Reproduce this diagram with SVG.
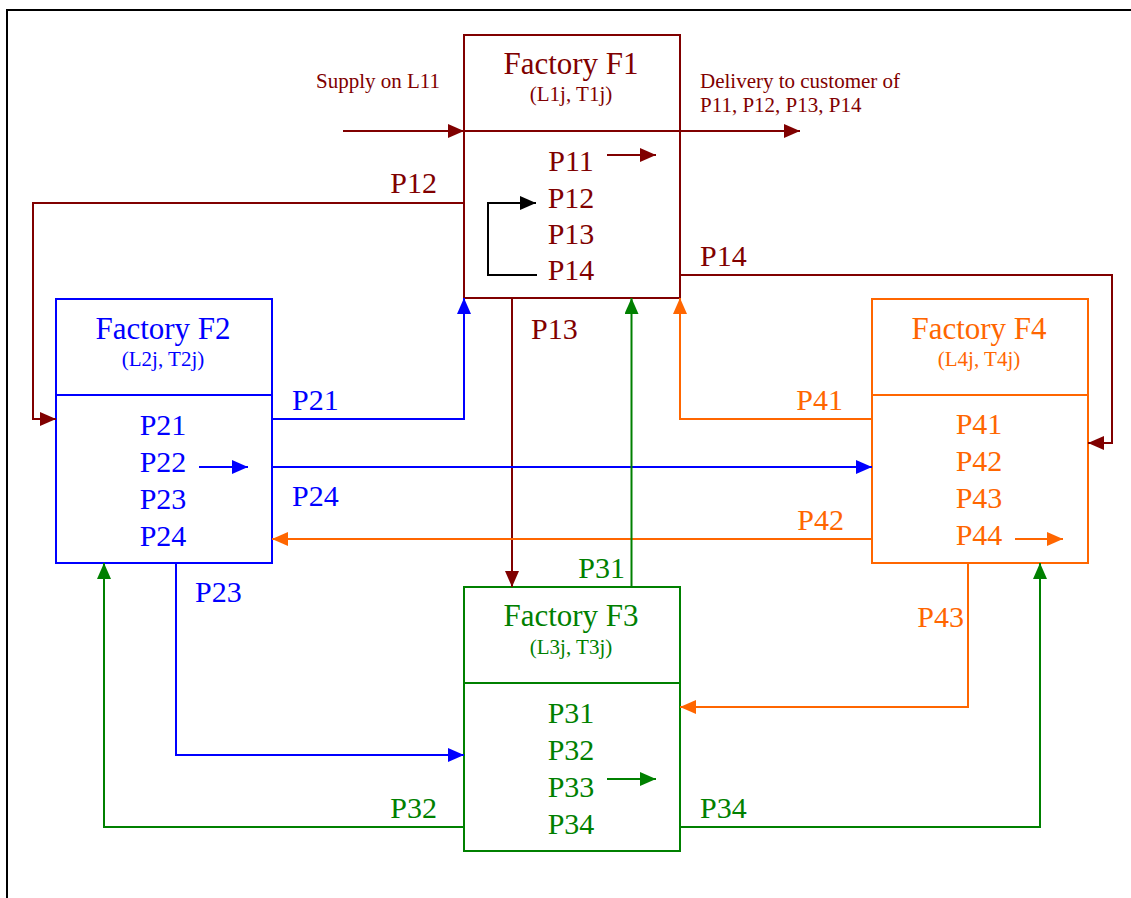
<svg xmlns="http://www.w3.org/2000/svg" width="1131" height="898" viewBox="0 0 1131 898">
<style>
text{font-family:"Liberation Serif","Times New Roman",serif}
.title{font-size:31px;text-anchor:middle}
.sub{font-size:21px;text-anchor:middle}
.item{font-size:30px;text-anchor:middle}
.lbl{font-size:30px}
.end{text-anchor:end}
.note{font-size:21px}
.box{fill:#fff;stroke-width:2}
.c{fill:none;stroke-width:2}
.mr{stroke:#800000}.tmr{fill:#800000}
.bl{stroke:#0000ff}.tbl{fill:#0000ff}
.or{stroke:#ff6600}.tor{fill:#ff6600}
.gr{stroke:#008000}.tgr{fill:#008000}
.bk{stroke:#000}
</style>
<defs>
<marker id="am" markerUnits="userSpaceOnUse" markerWidth="16" markerHeight="14" refX="16" refY="7" orient="auto"><path d="M0,0 L16,7 L0,14 z" fill="#800000"/></marker>
<marker id="ab" markerUnits="userSpaceOnUse" markerWidth="16" markerHeight="14" refX="16" refY="7" orient="auto"><path d="M0,0 L16,7 L0,14 z" fill="#0000ff"/></marker>
<marker id="ao" markerUnits="userSpaceOnUse" markerWidth="16" markerHeight="14" refX="16" refY="7" orient="auto"><path d="M0,0 L16,7 L0,14 z" fill="#ff6600"/></marker>
<marker id="ag" markerUnits="userSpaceOnUse" markerWidth="16" markerHeight="14" refX="16" refY="7" orient="auto"><path d="M0,0 L16,7 L0,14 z" fill="#008000"/></marker>
<marker id="ak" markerUnits="userSpaceOnUse" markerWidth="16" markerHeight="14" refX="16" refY="7" orient="auto"><path d="M0,0 L16,7 L0,14 z" fill="#000"/></marker>
</defs>
<rect width="1131" height="898" fill="#fff"/>
<path d="M7,898 V10 H1131" fill="none" stroke="#000" stroke-width="2"/>

<g id="f1">
<rect class="box mr" x="464" y="35" width="216" height="263"/>
<line class="c mr" x1="464" y1="131" x2="680" y2="131"/>
<text class="title tmr" x="571" y="74">Factory F1</text>
<text class="sub tmr" x="571" y="101">(L1j, T1j)</text>
<text class="item tmr" x="571" y="171">P11</text>
<text class="item tmr" x="571" y="208">P12</text>
<text class="item tmr" x="571" y="244">P13</text>
<text class="item tmr" x="571" y="280">P14</text>
<path class="c mr" d="M607,155 H656" marker-end="url(#am)"/>
<path class="c bk" d="M537,275 H488 V203 H536" marker-end="url(#ak)"/>
</g>

<g id="f2">
<rect class="box bl" x="56" y="299" width="216" height="264"/>
<line class="c bl" x1="56" y1="395" x2="272" y2="395"/>
<text class="title tbl" x="163" y="339">Factory F2</text>
<text class="sub tbl" x="163" y="366">(L2j, T2j)</text>
<text class="item tbl" x="163" y="435">P21</text>
<text class="item tbl" x="163" y="472">P22</text>
<text class="item tbl" x="163" y="509">P23</text>
<text class="item tbl" x="163" y="546">P24</text>
<path class="c bl" d="M199,467 H248" marker-end="url(#ab)"/>
</g>

<g id="f4">
<rect class="box or" x="872" y="299" width="216" height="264"/>
<line class="c or" x1="872" y1="395" x2="1088" y2="395"/>
<text class="title tor" x="979" y="339">Factory F4</text>
<text class="sub tor" x="979" y="366">(L4j, T4j)</text>
<text class="item tor" x="979" y="434">P41</text>
<text class="item tor" x="979" y="471">P42</text>
<text class="item tor" x="979" y="508">P43</text>
<text class="item tor" x="979" y="545">P44</text>
<path class="c or" d="M1015,539 H1063" marker-end="url(#ao)"/>
</g>

<g id="f3">
<rect class="box gr" x="464" y="587" width="216" height="264"/>
<line class="c gr" x1="464" y1="683" x2="680" y2="683"/>
<text class="title tgr" x="571" y="626">Factory F3</text>
<text class="sub tgr" x="571" y="654">(L3j, T3j)</text>
<text class="item tgr" x="571" y="723">P31</text>
<text class="item tgr" x="571" y="760">P32</text>
<text class="item tgr" x="571" y="797">P33</text>
<text class="item tgr" x="571" y="834">P34</text>
<path class="c gr" d="M607,779 H656" marker-end="url(#ag)"/>
</g>

<g id="connectors">
<path class="c mr" d="M343,131 H464" marker-end="url(#am)"/>
<path class="c mr" d="M680,131 H800" marker-end="url(#am)"/>
<path class="c mr" d="M464,203 H33 V419 H56" marker-end="url(#am)"/>
<path class="c mr" d="M680,275 H1112 V443 H1088" marker-end="url(#am)"/>
<path class="c mr" d="M512,298 V587" marker-end="url(#am)"/>
<path class="c bl" d="M272,419 H464 V298" marker-end="url(#ab)"/>
<path class="c bl" d="M272,467 H872" marker-end="url(#ab)"/>
<path class="c bl" d="M176,563 V755 H464" marker-end="url(#ab)"/>
<path class="c or" d="M872,419 H680 V298" marker-end="url(#ao)"/>
<path class="c or" d="M872,539 H272" marker-end="url(#ao)"/>
<path class="c or" d="M968,563 V707 H680" marker-end="url(#ao)"/>
<path class="c gr" d="M631.5,587 V298" marker-end="url(#ag)"/>
<path class="c gr" d="M464,827 H104 V563" marker-end="url(#ag)"/>
<path class="c gr" d="M680,827 H1040 V563" marker-end="url(#ag)"/>

<text class="note tmr" x="316" y="88">Supply on L11</text>
<text class="note tmr" x="700" y="88">Delivery to customer of</text>
<text class="note tmr" x="700" y="112">P11, P12, P13, P14</text>
<text class="lbl tmr end" x="437" y="193">P12</text>
<text class="lbl tmr" x="700" y="266">P14</text>
<text class="lbl tmr" x="531" y="339">P13</text>
<text class="lbl tbl" x="292" y="410">P21</text>
<text class="lbl tbl" x="292" y="506">P24</text>
<text class="lbl tbl" x="195" y="602">P23</text>
<text class="lbl tor end" x="843" y="410">P41</text>
<text class="lbl tor end" x="844" y="530">P42</text>
<text class="lbl tor end" x="964" y="627">P43</text>
<text class="lbl tgr end" x="625" y="578">P31</text>
<text class="lbl tgr end" x="437" y="818">P32</text>
<text class="lbl tgr" x="700" y="818">P34</text>
</g>
</svg>
